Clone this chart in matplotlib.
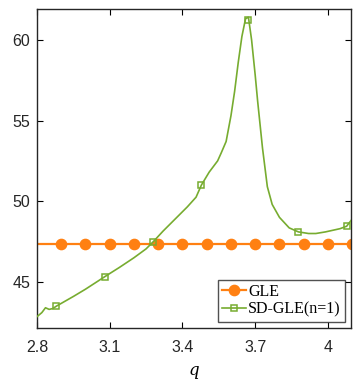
import matplotlib
matplotlib.use("Agg")
import matplotlib.pyplot as plt

# GLE: flat line
gle_q = [2.8, 2.9, 3.0, 3.1, 3.2, 3.3, 3.4, 3.5, 3.6, 3.7, 3.8, 3.9, 4.0, 4.1]
gle_val = [47.35] * len(gle_q)

# SD-GLE(n=1) curve
sd_q = [2.80, 2.82, 2.835, 2.85, 2.865, 2.88, 2.95, 3.00, 3.08, 3.14, 3.20,
        3.25, 3.28, 3.32, 3.36, 3.39, 3.42, 3.456, 3.478, 3.51, 3.545, 3.56,
        3.58, 3.60, 3.615, 3.63, 3.645, 3.66, 3.672, 3.685, 3.70, 3.71, 3.73,
        3.75, 3.77, 3.80, 3.84, 3.878, 3.92, 3.95, 3.99, 4.02, 4.05, 4.077, 4.1]
sd_val = [42.85, 43.1, 43.4, 43.3, 43.35, 43.5, 44.1, 44.55, 45.33, 45.9, 46.5,
          47.05, 47.5, 48.15, 48.75, 49.2, 49.65, 50.25, 51.0, 51.8, 52.5, 53.0,
          53.7, 55.3, 56.8, 58.6, 60.2, 61.3, 61.4, 60.0, 57.8, 56.2, 53.3,
          50.9, 49.8, 49.0, 48.35, 48.1, 48.0, 48.0, 48.1, 48.2, 48.3, 48.45, 48.9]
sd_mark_q = [2.88, 3.08, 3.28, 3.478, 3.672, 3.878, 4.077]
sd_mark_val = [43.5, 45.33, 47.5, 51.0, 61.2, 48.1, 48.45]

xticks = [2.8, 3.1, 3.4, 3.7, 4.0]
xticklabels = ["2.8", "3.1", "3.4", "3.7", "4"]
yticks = [45, 50, 55, 60]

orange = "#FF8012"
green = "#77AC30"

fig = plt.figure(figsize=(3.54, 3.80), dpi=100)
ax = fig.add_axes([0.1045, 0.137, 0.887, 0.839])

ax.plot(gle_q, gle_val, color=orange, lw=1.6, marker="o", ms=7.4,
        markevery=slice(1, None), label="GLE", zorder=2)
ax.plot(sd_q, sd_val, color=green, lw=1.2, zorder=3)
ax.plot(sd_mark_q, sd_mark_val, ls="none", marker="s", ms=4.5, mfc="none",
        mec=green, mew=1.1, zorder=4)
# legend proxy for the SD-GLE line with its marker
ax.plot([], [], color=green, lw=1.2, marker="s", ms=4.5, mfc="none",
        mec=green, mew=1.1, label="SD-GLE(n=1)")

ax.set_xlim(2.8, 4.095)
ax.set_ylim(42.15, 61.9)
ax.set_xticks(xticks)
ax.set_xticklabels(xticklabels)
ax.set_yticks(yticks)
ax.tick_params(direction="in", top=True, right=True, length=4, width=0.8,
               labelsize=11.5, labelcolor="#262626")
ax.tick_params(axis="x", pad=9)
ax.tick_params(axis="y", pad=5)
for lab in ax.get_xticklabels() + ax.get_yticklabels():
    lab.set_family("Liberation Sans")
for s in ax.spines.values():
    s.set_linewidth(1.0)
    s.set_color("#262626")

ax.set_xlabel("q", family="DejaVu Serif", style="italic", fontsize=12,
              labelpad=5)

leg = ax.legend(loc="lower right", prop={"family": "Liberation Serif", "size": 11.5},
                frameon=True, fancybox=False, edgecolor="#262626",
                borderaxespad=0.4, handlelength=1.5, handletextpad=0.15,
                borderpad=0.25, labelspacing=0.1)
leg.get_frame().set_linewidth(1.0)

fig.savefig("out.png", dpi=100)
